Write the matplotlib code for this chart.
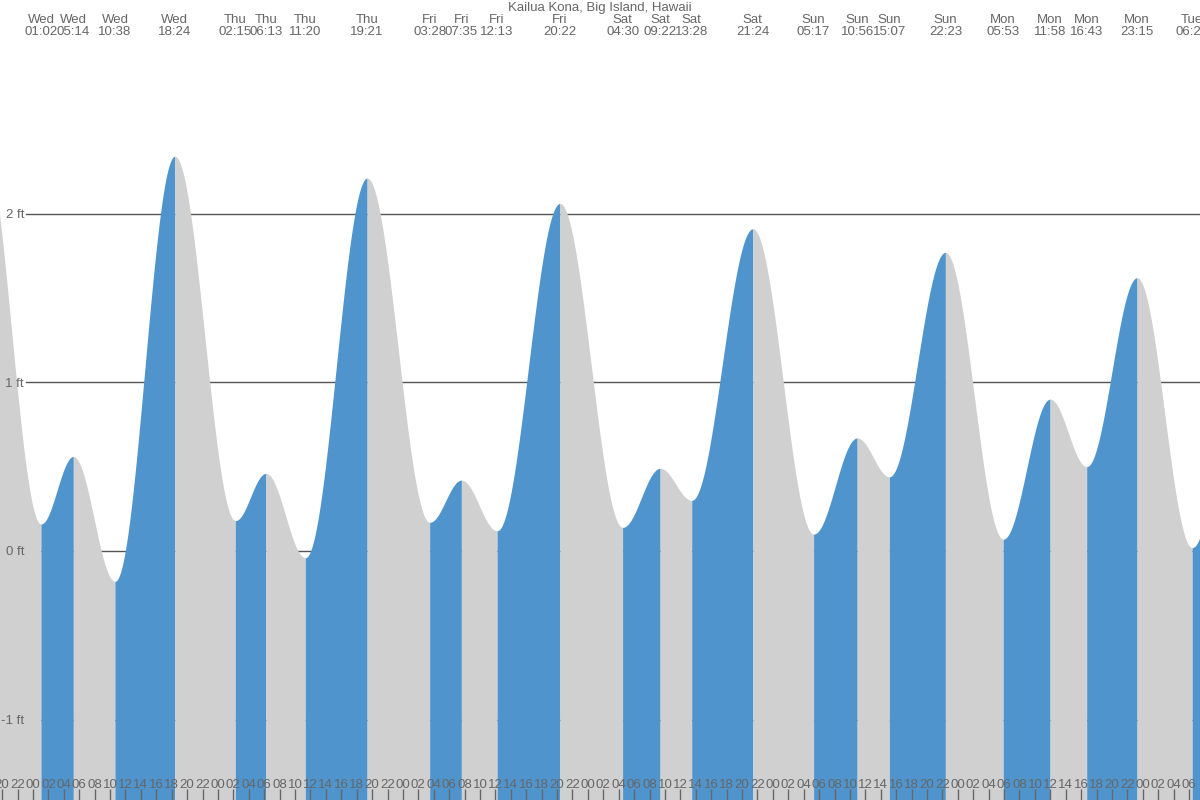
import numpy as np
import matplotlib
matplotlib.use("Agg")
import matplotlib.pyplot as plt

plt.rcParams['font.family'] = ['Liberation Sans', 'DejaVu Sans']

TITLE = "Kailua Kona, Big Island, Hawaii"

# labelled tide extremes (day, time, height in ft)
ext_day = ['Wed', 'Wed', 'Wed', 'Wed', 'Thu', 'Thu', 'Thu', 'Thu',
           'Fri', 'Fri', 'Fri', 'Fri', 'Sat', 'Sat', 'Sat', 'Sat',
           'Sun', 'Sun', 'Sun', 'Sun', 'Mon', 'Mon', 'Mon', 'Mon', 'Tue']
ext_time = ['01:02', '05:14', '10:38', '18:24', '02:15', '06:13', '11:20', '19:21',
            '03:28', '07:35', '12:13', '20:22', '04:30', '09:22', '13:28', '21:24',
            '05:17', '10:56', '15:07', '22:23', '05:53', '11:58', '16:43', '23:15', '06:24']
ext_ft = [0.16, 0.56, -0.18, 2.34, 0.18, 0.46, -0.04, 2.21,
          0.17, 0.42, 0.12, 2.06, 0.14, 0.49, 0.30, 1.91,
          0.10, 0.67, 0.44, 1.77, 0.07, 0.90, 0.50, 1.62, 0.02]

# extremes just outside the window (needed for the curve ends)
prev_ext = (-1, '17:25', 2.45)   # day offset, time, ft
next_ext = (6, '12:30', 0.95)

day_offset = {'Wed': 0, 'Thu': 1, 'Fri': 2, 'Sat': 3, 'Sun': 4, 'Mon': 5, 'Tue': 6}

grid_ft = [-1, 0, 1, 2]
x_start, x_end = -4.28, 151.42   # hours from Wed 00:00
y_bottom, y_top = -1.476, 3.266

BLUE = '#4f94cd'
GRAY = '#d0d0d0'
TEXT = '#666666'


def to_hours(day, hhmm):
    h, m = hhmm.split(':')
    return day * 24 + int(h) + int(m) / 60.0


ext_hours = [to_hours(day_offset[d], t) for d, t in zip(ext_day, ext_time)]
all_t = [to_hours(prev_ext[0], prev_ext[1])] + ext_hours + [to_hours(next_ext[0], next_ext[1])]
all_h = [prev_ext[2]] + ext_ft + [next_ext[2]]

fig = plt.figure(figsize=(12, 8), dpi=100)
ax = fig.add_axes([0, 0, 1, 1])

# cosine interpolation between consecutive extremes, one fill per segment
for i in range(len(all_t) - 1):
    t0, t1 = all_t[i], all_t[i + 1]
    h0, h1 = all_h[i], all_h[i + 1]
    tt = np.linspace(t0, t1, 200)
    f = (tt - t0) / (t1 - t0)
    hh = h0 + (h1 - h0) * (1 - np.cos(np.pi * f)) / 2
    color = BLUE if h1 > h0 else GRAY   # rising = blue, falling = gray
    ax.fill_between(tt, y_bottom, hh, color=color, linewidth=0, zorder=1)

# grid lines sit behind the water
for g in grid_ft:
    ax.axhline(g, xmin=26 / 1200, xmax=1, color='#555555', linewidth=1, zorder=0)
    ax.text(24 / 1200, g, f"{g} ft", transform=ax.get_yaxis_transform(),
            ha='right', va='center_baseline', fontsize=9.5, color=TEXT)

# extreme labels on top
for t, d, tm in zip(ext_hours, ext_day, ext_time):
    ax.text(t, 1 - 20 / 800, d, transform=ax.get_xaxis_transform(),
            ha='center', va='center', fontsize=9.5, color=TEXT)
    ax.text(t, 1 - 32 / 800, tm, transform=ax.get_xaxis_transform(),
            ha='center', va='center', fontsize=9.5, color=TEXT)

ax.text(0.5, 1 - 8 / 800, TITLE, transform=ax.transAxes,
        ha='center', va='center', fontsize=9.5, color=TEXT)

# hour ticks along the bottom, thick ones at midnight
hour_ticks = np.arange(-4, 152, 2)
ax.set_xticks(hour_ticks)
ax.set_xticklabels([f"{int(h) % 24:02d}" for h in hour_ticks])
ax.set_xticks(np.arange(0, 152, 24), minor=True)
ax.tick_params(axis='x', which='major', direction='in', length=8, width=1,
               color=TEXT, pad=-15, labelsize=9.5, labelcolor=TEXT)
ax.tick_params(axis='x', which='minor', direction='in', length=8, width=3,
               color='#555555')
ax.set_yticks([])

for s in ax.spines.values():
    s.set_visible(False)

ax.set_xlim(x_start, x_end)
ax.set_ylim(y_bottom, y_top)

fig.savefig("out.png", dpi=100, facecolor='white')
